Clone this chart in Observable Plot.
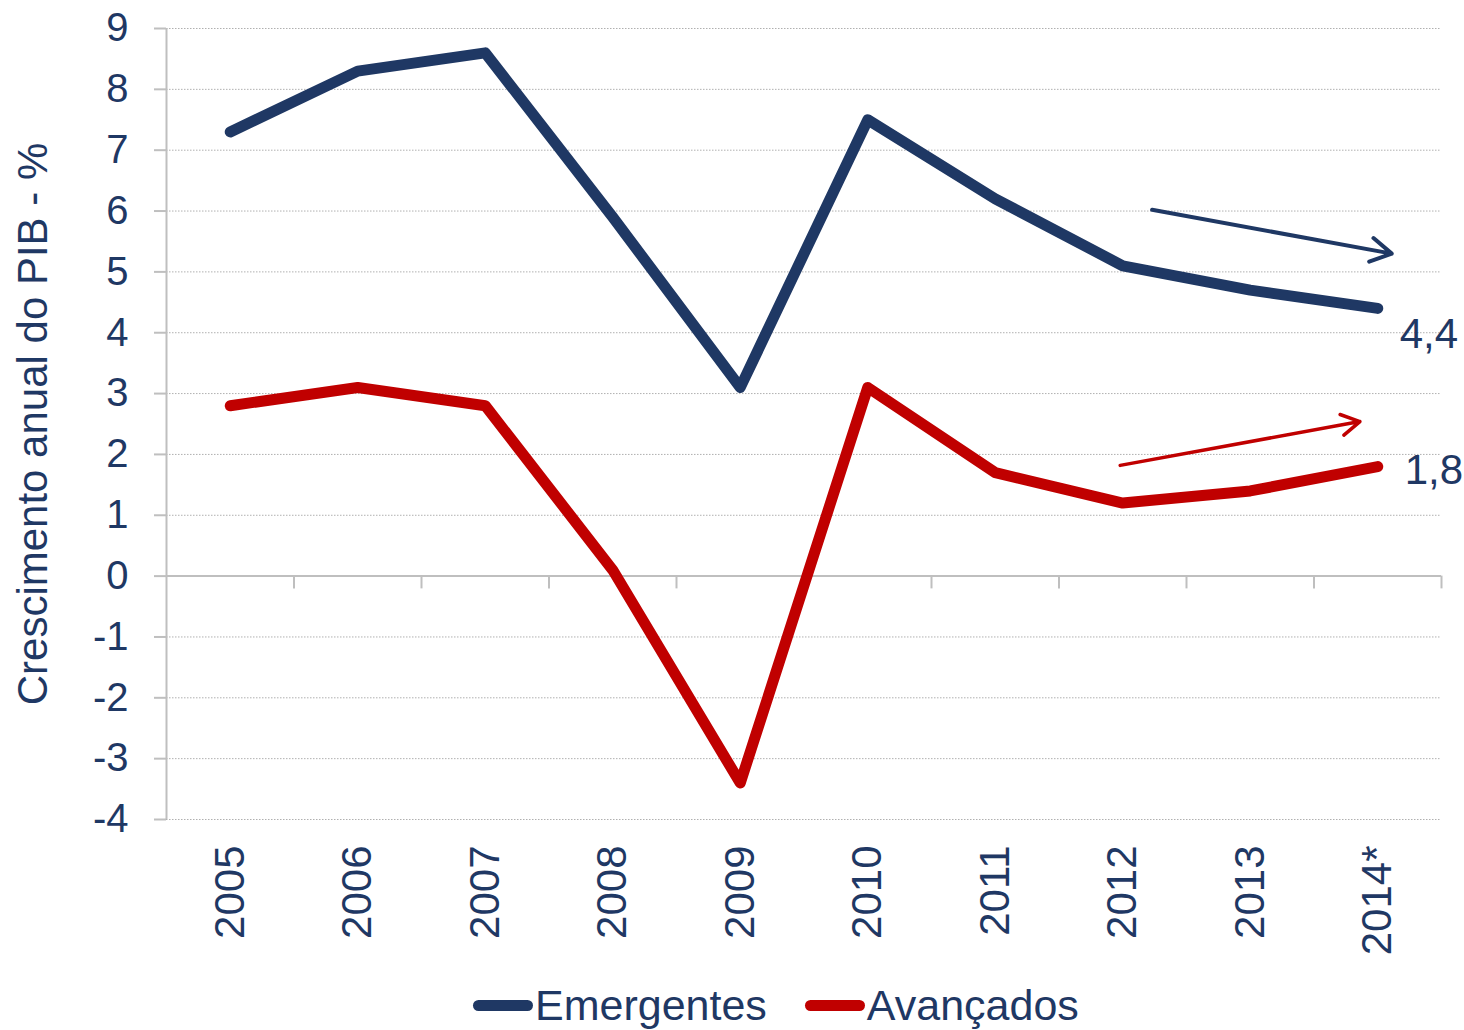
<!DOCTYPE html>
<html>
<head>
<meta charset="utf-8">
<script src="https://cdn.jsdelivr.net/npm/d3@7"></script>
<script src="https://cdn.jsdelivr.net/npm/@observablehq/plot@0.6"></script>
<style>
  body { margin: 0; background: #fff; font-family: "Liberation Sans", Arial, sans-serif; }
  #legend { display: flex; align-items: center; height: 50px; padding-top: 5px; padding-left: 473px; color: #1f3864; font-size: 43px; line-height: 50px; }
  .item { display: flex; align-items: center; }
  .sw { width: 60px; height: 11px; border-radius: 6px; margin-right: 2px; }
</style>
</head>
<body>
<div id="chart"></div>
<div id="legend"></div>
<script>
const years = [2005, 2006, 2007, 2008, 2009, 2010, 2011, 2012, 2013, 2014];
const xTickLabels = ["2005", "2006", "2007", "2008", "2009", "2010", "2011", "2012", "2013", "2014*"];
const emergentes = [7.3, 8.3, 8.6, 5.9, 3.1, 7.5, 6.2, 5.1, 4.7, 4.4];
const avancados = [2.8, 3.1, 2.8, 0.1, -3.4, 3.1, 1.7, 1.2, 1.4, 1.8];
const yTicks = [-4, -3, -2, -1, 0, 1, 2, 3, 4, 5, 6, 7, 8, 9];
const seriesNames = ["Emergentes", "Avançados"];
const yLabel = "Crescimento anual do PIB - %";
// trend arrows (annotation), in data units
const trendArrows = [
  {series: "Emergentes", x1: 2012.23, y1: 6.02, x2: 2014.11, y2: 5.30},
  {series: "Avançados", x1: 2011.98, y1: 1.82, x2: 2013.86, y2: 2.54}
];

const NAVY = "#1f3864";
const RED = "#c00000";
const GRAY = "#bfbfbf";
const colorOf = {"Emergentes": NAVY, "Avançados": RED};

const rows = years.map((y, i) => ({year: y, label: xTickLabels[i], Emergentes: emergentes[i], "Avançados": avancados[i]}));
const boundaries = years.map(y => y + 0.5);
const last = rows[rows.length - 1];
const fmt = v => String(v.toFixed(1)).replace(".", ",");

const chart = Plot.plot({
  width: 1464,
  height: 975,
  marginLeft: 166,
  marginRight: 23,
  marginTop: 28,
  marginBottom: 156,
  style: {fontFamily: "'Liberation Sans', Arial, sans-serif", color: NAVY, background: "#fff"},
  x: {type: "linear", domain: [2004.5, 2014.5]},
  y: {domain: [-4, 9]},
  marks: [
    Plot.gridY(yTicks, {stroke: "#b0b0b0", strokeOpacity: 1, strokeDasharray: "1.5,1.5", strokeWidth: 1}),
    Plot.ruleY([0], {stroke: GRAY, strokeWidth: 2}),
    Plot.ruleX(boundaries, {x: d => d, y1: 0, y2: -0.21, stroke: GRAY, strokeWidth: 2}),
    Plot.ruleX([2004.5], {stroke: GRAY, strokeWidth: 2}),
    Plot.axisY({ticks: yTicks, tickSize: 12, tickPadding: 26, stroke: GRAY, strokeWidth: 2, fill: NAVY, fontSize: 40, label: null, tickFormat: d => String(d)}),
    Plot.axisX({ticks: years, tickFormat: (d) => xTickLabels[years.indexOf(d)], tickSize: 0, tickPadding: 26, tickRotate: -90, fill: NAVY, fontSize: 42, label: null}),
    Plot.text([yLabel], {frameAnchor: "left", dx: -133, rotate: -90, textAnchor: "middle", fontSize: 42, fill: NAVY}),
    ...seriesNames.map(s => Plot.line(rows, {x: "year", y: s, stroke: colorOf[s], strokeWidth: 11, strokeLinecap: "round", strokeLinejoin: "round"})),
    ...trendArrows.map(a => Plot.arrow([a], {x1: "x1", y1: "y1", x2: "x2", y2: "y2", stroke: colorOf[a.series], strokeWidth: a.series === "Emergentes" ? 4 : 3.5, headLength: 9, headAngle: 60, bend: 0})),
    Plot.text([last], {x: "year", y: "Emergentes", text: d => fmt(d.Emergentes), dx: 22, dy: 26, textAnchor: "start", fontSize: 42, fill: NAVY}),
    Plot.text([last], {x: "year", y: "Avançados", text: d => fmt(d["Avançados"]), dx: 27, dy: 4, textAnchor: "start", fontSize: 42, fill: NAVY})
  ]
});
document.getElementById("chart").appendChild(chart);

const legend = document.getElementById("legend");
seriesNames.forEach((s, i) => {
  const item = document.createElement("div");
  item.className = "item";
  if (i > 0) item.style.marginLeft = "38px";
  const sw = document.createElement("span");
  sw.className = "sw";
  sw.style.background = colorOf[s];
  const t = document.createElement("span");
  t.textContent = s;
  item.appendChild(sw);
  item.appendChild(t);
  legend.appendChild(item);
});
</script>
</body>
</html>
